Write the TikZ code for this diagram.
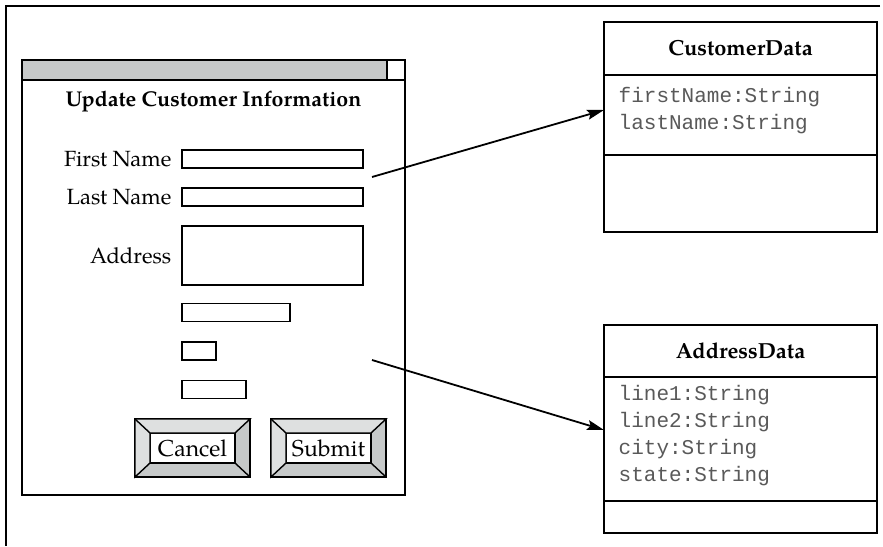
\documentclass[tikz,border=0pt]{standalone}
\usepackage{fontspec}
\setmainfont{TeX Gyre Pagella}
\newfontfamily\codefont{Liberation Mono}
\usepackage{tikz}
\usetikzlibrary{positioning}
\usetikzlibrary{arrows.meta}
\usetikzlibrary{calc}
\definecolor{barGray}{RGB}{198,200,200}
\definecolor{bevelLight}{RGB}{222,224,224}
\definecolor{bevelDark}{RGB}{198,201,201}

\begin{document}
\begin{tikzpicture}[x=0.5pt,y=-0.5pt,line width=0.7pt,
    font=\fontsize{11}{13}\selectfont]
\tikzstyle{lbl}=[anchor=east, inner sep=0pt]
\tikzstyle{field}=[draw, anchor=west, minimum height=9pt, inner sep=0pt, outer sep=0pt]
\tikzstyle{btnout}=[draw, fill=bevelDark, minimum width=57.5pt, minimum height=29pt, inner sep=0pt, outer sep=0pt]
\tikzstyle{btnin}=[draw, fill=white, minimum width=42.5pt, minimum height=15pt, inner sep=0pt, outer sep=0pt]
\tikzstyle{clsbox}=[draw, minimum width=136.5pt, inner sep=0pt, outer sep=0pt]
\tikzstyle{clsname}=[font=\fontsize{10.9}{13}\selectfont\bfseries]
\tikzstyle{attrs}=[anchor=north west, align=left, inner sep=0pt, font=\codefont\fontsize{10.5}{13.5}\selectfont, text=black!65]
\tikzstyle{link}=[line width=0.9pt, -{Stealth[length=8.5pt,width=5pt,inset=1.5pt]}]
\useasboundingbox (0,0) rectangle (883,546);
% frame
\draw[line width=0.6pt] (880,6) -- (6,6) -- (6,546);
% form window
\fill[barGray] (22,60) rectangle (387,80);
\draw (22,60) rectangle (405,495);
\draw (22,80) -- (405,80);
\draw (387,60) -- (387,80);
\node[font=\fontsize{10.7}{13}\selectfont\bfseries] (title) at (213.5,102) {Update Customer Information};
\node[lbl] (fnLbl) at (172,159) {First Name};
\node[lbl] (lnLbl) at (172,197) {Last Name};
\node[lbl] (adLbl) at (172,255.5) {Address};
\node[field, minimum width=90.5pt] (fnField) at (182,159) {};
\node[field, minimum width=90.5pt] (lnField) at (182,197) {};
\node[field, minimum width=90.5pt, minimum height=29.5pt] (adField) at (182,255.5) {};
\node[field, minimum width=54pt] (cityField) at (182,312.5) {};
\node[field, minimum width=17pt] (stField) at (182,351) {};
\node[field, minimum width=32pt] (zipField) at (182,389.5) {};
% buttons
\foreach \b/\x/\t in {cancel/192.5/Cancel,submit/328.5/Submit} {
    \node[btnout] (\b Out) at (\x,448) {};
    \node[btnin] (\b In) at (\x,448) {};
    \filldraw[fill=bevelLight] (\b Out.north west) -- (\b Out.north east) -- (\b In.north east)
        -- (\b In.north west) -- (\b In.south west) -- (\b Out.south west) -- cycle;
    \draw (\b Out.north west) -- (\b In.north west);
    \draw (\b Out.south east) -- (\b In.south east);
    \node[font=\fontsize{11.5}{13}\selectfont] (\b Txt) at (\b In) {\t};
}
% classes
\node[clsbox, clsname, minimum height=26.5pt] (cdHead) at (740.5,48.5) {CustomerData};
\node[clsbox, minimum height=40pt, below=0pt of cdHead] (cdAttr) {};
\node[clsbox, minimum height=38.5pt, below=0pt of cdAttr] (cdOps) {};
\node[attrs] (cdList) at ($(cdAttr.north west)+(14,12)$) {firstName:String\\lastName:String};
\node[clsbox, clsname, minimum height=26pt] (adHead) at (740.5,351) {AddressData};
\node[clsbox, minimum height=62pt, below=0pt of adHead] (adAttr) {};
\node[clsbox, minimum height=16pt, below=0pt of adAttr] (adOps) {};
\node[attrs] (adList) at ($(adAttr.north west)+(14,8)$) {line1:String\\line2:String\\city:String\\state:String};
% links
\coordinate (nameSrc) at (372,177);
\coordinate (addrSrc) at (372,360);
\draw[link] (nameSrc) -- ($(cdAttr.west)+(0,-5)$);
\draw[link] (addrSrc) -- ($(adAttr.west)+(0,-9)$);
\end{tikzpicture}
\end{document}
